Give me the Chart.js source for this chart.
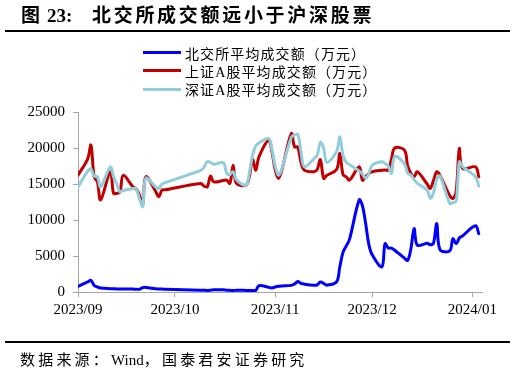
<!DOCTYPE html>
<html>
<head>
<meta charset="utf-8">
<script src="https://cdn.jsdelivr.net/npm/chart.js@4.4.0/dist/chart.umd.min.js"></script>
<style>
html, body { margin: 0; padding: 0; background: #fff; }
#page { position: relative; width: 515px; height: 374px; overflow: hidden; font-family: "Liberation Serif", "Noto Sans CJK SC", serif; color: #000; }
#chart { position: absolute; left: 0; top: 0; }
.title { position: absolute; top: 5px; font-size: 19px; font-weight: bold; line-height: 22px; white-space: nowrap; }
.rule { position: absolute; left: 5px; width: 505px; height: 2px; background: #000; }
#legend { position: absolute; left: 143px; top: 43.5px; }
.item { height: 18.3px; display: flex; align-items: center; font-size: 14px; letter-spacing: 1.1px; white-space: nowrap; }
.swatch { width: 38px; height: 3px; margin-right: 4px; }
.source { position: absolute; left: 20px; top: 349.5px; font-size: 15px; line-height: 20px; white-space: nowrap; }
.source .cjk { letter-spacing: 3.2px; }
</style>
</head>
<body>
<div id="page">
    <canvas id="chart" width="515" height="374"></canvas>
    <span class="title" style="left:21px">图</span>
    <span class="title" style="left:47px">23:</span>
    <span class="title" style="left:92px; letter-spacing:2.7px">北交所成交额远小于沪深股票</span>
    <div class="rule" style="top:30px"></div>
    <div id="legend"></div>
    <div class="rule" style="top:341px"></div>
    <div class="source"><span class="cjk">数据来源：</span>Wind<span class="cjk">，国泰君安证券研究</span></div>
</div>
<script>
// x axis: days since 2023/09/01, ticks on the first of each month
const tickDays = [0, 30, 61, 91, 122];
const tickLabels = ['2023/09', '2023/10', '2023/11', '2023/12', '2024/01'];

// trading days (days since 2023/09/01)
const tradeDays = [
    0, 3, 4, 5, 6, 7, 10, 11, 12, 13, 14, 17, 18, 19, 20, 21, 24, 25, 26, 27,
    38, 39, 40, 41, 42, 45, 46, 47, 48, 49, 52, 53, 54, 55, 56, 59, 60,
    61, 62, 63, 66, 67, 68, 69, 70, 73, 74, 75, 76, 77, 80, 81, 82, 83, 84, 87, 88, 89, 90,
    91, 94, 95, 96, 97, 98, 101, 102, 103, 104, 105, 108, 109, 110, 111, 112, 115, 116, 117, 118, 119,
    123, 124
];

const seriesNames = ['北交所平均成交额（万元）', '上证A股平均成交额（万元）', '深证A股平均成交额（万元）'];
const seriesColors = ['#0000FF', '#C00000', '#92CDDC'];

const bseAvg = [
    780, 1400, 1610, 900, 700, 550, 460, 450, 430, 420, 420, 400, 380, 380, 600, 640, 450, 420, 400, 380,
    260, 240, 220, 250, 300, 300, 250, 230, 200, 250, 220, 200, 220, 210, 870, 650, 550,
    700, 800, 850, 920, 1100, 1450, 1200, 1100, 950, 1000, 1400, 1200, 950, 1400, 3500, 5500, 6400, 7300, 12800, 12000, 9500, 6600,
    5200, 3500, 6700, 6100, 6100, 5800, 4700, 4400, 6000, 8800, 6500, 6780, 6550, 6800, 9500, 5900, 5700, 7400, 6700, 7500, 7800,
    9200, 8100
];
const shAvg = [
    16230, 18500, 20400, 16000, 15300, 12800, 16700, 13700, 13700, 13900, 16200, 14600, 14300, 13500, 12100, 16000, 14000, 13230, 14160, 14200,
    15080, 14700, 14600, 16100, 15300, 15500, 15540, 15080, 17620, 15100, 14850, 16000, 18400, 16930, 18770, 21080, 19500,
    17000, 15780, 16800, 22000, 20150, 20150, 18000, 16930, 16700, 17000, 18400, 15780, 16200, 17000, 19240, 16300, 16000, 15540, 17380, 15540, 16000, 16470,
    16700, 16900, 16930, 16930, 18500, 20000, 19700, 17500, 16470, 16000, 16700, 15000, 14390, 15500, 16700, 16200, 13400, 13000, 14000, 19930, 17160,
    17380, 16000
];
const szAvg = [
    14600, 16800, 17100, 16100, 16000, 14600, 17380, 16000, 15000, 13900, 14100, 14390, 14300, 13000, 11850, 15800, 14600, 14390, 15000, 15200,
    16900, 17300, 18100, 18000, 17760, 17940, 16500, 16300, 16700, 15600, 14850, 16500, 19000, 20300, 20700, 21310, 19800,
    17500, 16230, 17000, 21500, 21800, 21900, 19500, 17400, 18500, 19000, 20800, 20000, 18000, 19500, 21540, 19000, 18000, 17700, 16800, 16400, 15780, 16500,
    17600, 18080, 17850, 17500, 16470, 18800, 17800, 16500, 16230, 15600, 15080, 14160, 13000, 13800, 15700, 16100, 12310, 12400, 12600, 18080, 17400,
    16000, 14710
];

const toPoints = vals => tradeDays.map((d, i) => ({ x: d, y: vals[i] }));
const axisColor = '#A6A6A6';
const tickFont = { family: 'Liberation Serif', size: 15 };

const chart = new Chart(document.getElementById('chart'), {
    type: 'line',
    data: {
        datasets: [bseAvg, shAvg, szAvg].map((vals, i) => ({
            label: seriesNames[i],
            data: toPoints(vals),
            borderColor: seriesColors[i],
            order: 2 - i
        }))
    },
    options: {
        responsive: false,
        animation: false,
        devicePixelRatio: 1,
        layout: { padding: { left: 0, right: 33, top: 112, bottom: 52 } },
        plugins: { legend: { display: false }, tooltip: { enabled: false } },
        elements: {
            point: { radius: 0 },
            line: { tension: 0.35, borderWidth: 3, borderCapStyle: 'round', borderJoinStyle: 'round' }
        },
        scales: {
            x: {
                type: 'linear', min: 0, max: 125,
                afterBuildTicks: s => { s.ticks = tickDays.map(v => ({ value: v })); },
                afterFit: s => { s.height = 30; },
                ticks: {
                    autoSkip: false, maxRotation: 0, padding: 4, font: tickFont, color: '#000',
                    callback: v => tickLabels[tickDays.indexOf(v)]
                },
                grid: { drawOnChartArea: false, drawTicks: true, tickLength: 5, color: axisColor },
                border: { color: axisColor, width: 1 }
            },
            y: {
                min: 0, max: 25000,
                afterFit: s => { s.width = 78; },
                ticks: { stepSize: 5000, padding: 8, font: tickFont, color: '#000', callback: v => String(v) },
                grid: { drawOnChartArea: false, drawTicks: true, tickLength: 5, color: axisColor },
                border: { color: axisColor, width: 1 }
            }
        }
    }
});

// legend stacked vertically, built from the chart's datasets
const legend = document.getElementById('legend');
chart.data.datasets.forEach(ds => {
    const item = document.createElement('div');
    item.className = 'item';
    item.innerHTML = '<span class="swatch" style="background:' + ds.borderColor + '"></span><span>' + ds.label + '</span>';
    legend.appendChild(item);
});
</script>
</body>
</html>
